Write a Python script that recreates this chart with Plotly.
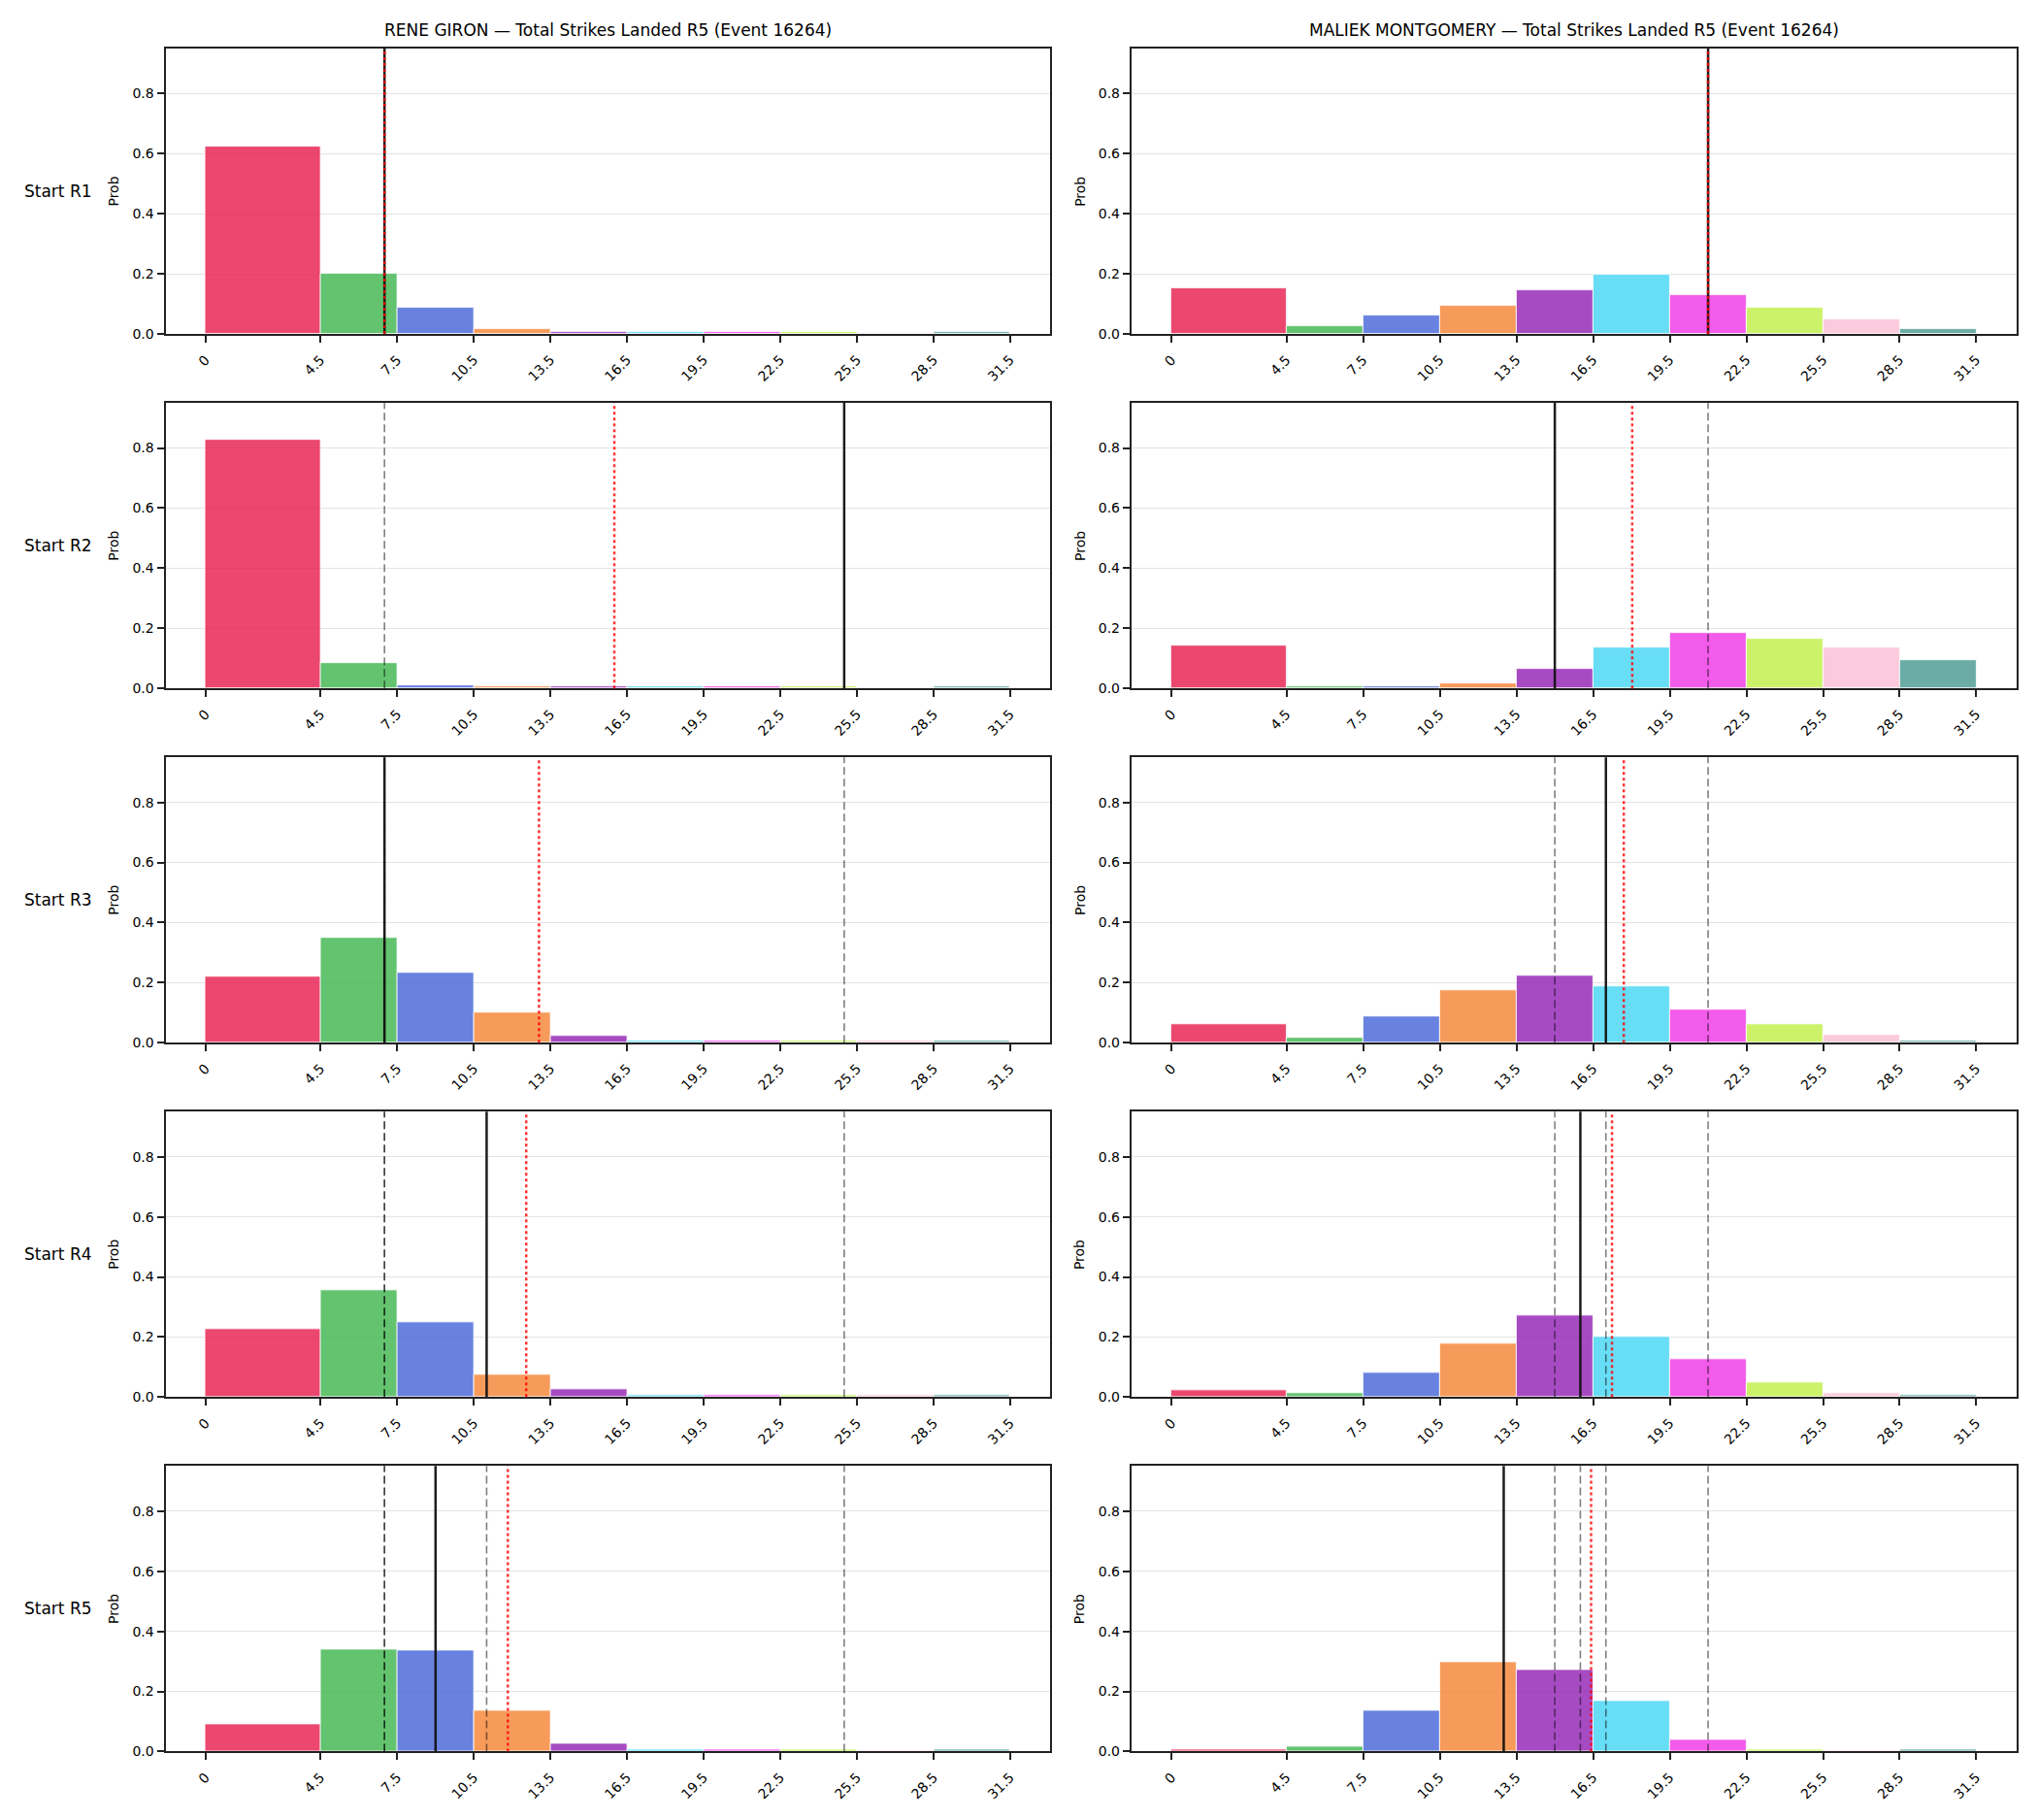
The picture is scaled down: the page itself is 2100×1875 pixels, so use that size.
import plotly.graph_objects as go

# ---------------- data ----------------
bin_edges = [0, 4.5, 7.5, 10.5, 13.5, 16.5, 19.5, 22.5, 25.5, 28.5, 31.5]
tick_labels = ["0", "4.5", "7.5", "10.5", "13.5", "16.5", "19.5", "22.5", "25.5", "28.5", "31.5"]
row_labels = ["Start R1", "Start R2", "Start R3", "Start R4", "Start R5"]
fighters = ["RENE GIRON", "MALIEK MONTGOMERY"]
title_suffix = " — Total Strikes Landed R5 (Event 16264)"

giron_probs = [
    [0.625, 0.201, 0.087, 0.015, 0.007, 0.007, 0.007, 0.006, 0.005, 0.007],
    [0.827, 0.083, 0.010, 0.006, 0.007, 0.006, 0.006, 0.006, 0.005, 0.007],
    [0.221, 0.350, 0.233, 0.100, 0.022, 0.007, 0.007, 0.007, 0.006, 0.007],
    [0.227, 0.357, 0.249, 0.075, 0.025, 0.007, 0.007, 0.007, 0.006, 0.007],
    [0.090, 0.340, 0.336, 0.137, 0.025, 0.006, 0.007, 0.007, 0.005, 0.006],
]
montgomery_probs = [
    [0.152, 0.026, 0.062, 0.094, 0.145, 0.198, 0.130, 0.086, 0.048, 0.018],
    [0.142, 0.006, 0.006, 0.018, 0.064, 0.135, 0.184, 0.164, 0.135, 0.093],
    [0.062, 0.018, 0.088, 0.174, 0.224, 0.187, 0.109, 0.061, 0.026, 0.007],
    [0.023, 0.013, 0.081, 0.179, 0.272, 0.200, 0.126, 0.049, 0.013, 0.007],
    [0.007, 0.018, 0.137, 0.298, 0.272, 0.167, 0.038, 0.006, 0.005, 0.006],
]
# solid black marker per start round, red dotted marker per start round
giron_current = [7, 25, 7, 11, 9]
giron_mean = [7.0, 16.0, 13.05, 12.55, 11.83]
montgomery_current = [21, 15, 17, 16, 13]
montgomery_mean = [21.0, 18.03, 17.7, 17.24, 16.42]

# ---------------- styles ----------------
bin_colors = ["#e6194b", "#3cb44b", "#4363d8", "#f58231", "#911eb4",
              "#42d4f4", "#f032e6", "#bfef45", "#fabed4", "#469990"]


def rgba(hex_color, a):
    h = hex_color.lstrip("#")
    return "rgba(%d,%d,%d,%.2f)" % (int(h[0:2], 16), int(h[2:4], 16), int(h[4:6], 16), a)


W, H = 2100, 1875
col_x = [(170.5, 1082.4), (1165.8, 2077.9)]
YCORR = 1.0 / 0.9955
row_top0, row_pitch, row_h = 50.0, 365.0, 294.0
FONT = "DejaVu Sans"

centers = [(bin_edges[i] + bin_edges[i + 1]) / 2 for i in range(len(bin_edges) - 1)]
widths = [bin_edges[i + 1] - bin_edges[i] for i in range(len(bin_edges) - 1)]
fill = [rgba(c, 0.8) for c in bin_colors]

fig = go.Figure()
layout = dict(
    width=W, height=H,
    margin=dict(l=0, r=0, t=0, b=0),
    paper_bgcolor="white", plot_bgcolor="white",
    showlegend=False, bargap=0,
    font=dict(family=FONT, color="black", size=14),
)
shapes = []
annotations = []

probs_all = [giron_probs, montgomery_probs]
current_all = [giron_current, montgomery_current]
mean_all = [giron_mean, montgomery_mean]

for r in range(5):
    top = (row_top0 + r * row_pitch) * YCORR
    bot = (row_top0 + r * row_pitch + row_h) * YCORR
    ydom = [max(0.0, 1 - bot / H), 1 - top / H]
    for c in range(2):
        k = r * 2 + c + 1
        xa = "x" if k == 1 else "x%d" % k
        ya = "y" if k == 1 else "y%d" % k
        xkey = "xaxis" if k == 1 else "xaxis%d" % k
        ykey = "yaxis" if k == 1 else "yaxis%d" % k
        x0, x1 = col_x[c]
        fig.add_trace(go.Bar(
            x=centers, y=probs_all[c][r], width=widths,
            marker=dict(color=fill, line=dict(color="white", width=0.8)),
            xaxis=xa, yaxis=ya, hoverinfo="x+y",
        ))
        layout[xkey] = dict(
            domain=[x0 / W, x1 / W], anchor=ya, range=[-1.575, 33.075],
            tickmode="array", tickvals=bin_edges, ticktext=tick_labels,
            tickangle=-45, ticks="outside", ticklen=7, tickwidth=1.5, tickcolor="#222",
            ticklabelstandoff=4,
            showline=True, linecolor="#222", linewidth=2, mirror=True,
            showgrid=False, zeroline=False, tickfont=dict(size=14, family=FONT, color="black"),
        )
        layout[ykey] = dict(
            domain=ydom, anchor=xa, range=[0, 0.95],
            tickmode="array", tickvals=[0, 0.2, 0.4, 0.6, 0.8],
            ticktext=["0.0", "0.2", "0.4", "0.6", "0.8"],
            ticks="outside", ticklen=7, tickwidth=1.5, tickcolor="#222",
            showline=True, linecolor="#222", linewidth=2, mirror=True,
            showgrid=True, gridcolor="#e3e3e3", gridwidth=1, zeroline=False,
            tickfont=dict(size=14, family=FONT, color="black"),
        )
        # previous-round markers (dashed)
        for v in current_all[c][:r]:
            shapes.append(dict(type="line", xref=xa, yref=ya + " domain", x0=v, x1=v, y0=0, y1=1,
                               line=dict(color="rgba(0,0,0,0.5)", width=1.6, dash="8px,4px"),
                               layer="above"))
        v = current_all[c][r]
        shapes.append(dict(type="line", xref=xa, yref=ya + " domain", x0=v, x1=v, y0=0, y1=1,
                           line=dict(color="rgba(17,17,17,0.95)", width=2.5), layer="above"))
        v = mean_all[c][r]
        shapes.append(dict(type="line", xref=xa, yref=ya + " domain", x0=v, x1=v, y0=0, y1=1,
                           line=dict(color="rgba(255,0,0,0.8)", width=2.5, dash="dot"), layer="above"))
        # y label
        annotations.append(dict(text="Prob", xref="paper", yref="paper",
                                x=(x0 - 53) / W, y=(ydom[0] + ydom[1]) / 2,
                                xanchor="center", yanchor="middle", textangle=-90,
                                showarrow=False, font=dict(size=14, family=FONT, color="black")))
        if r == 0:
            annotations.append(dict(text=fighters[c] + title_suffix, xref="paper", yref="paper",
                                    x=(x0 + x1) / 2 / W, y=1 - 31.5 / H,
                                    xanchor="center", yanchor="middle", showarrow=False,
                                    font=dict(size=17, family=FONT, color="black")))
    annotations.append(dict(text=row_labels[r], xref="paper", yref="paper",
                            x=23 / W, y=(ydom[0] + ydom[1]) / 2,
                            xanchor="left", yanchor="middle", showarrow=False,
                            font=dict(size=17, family=FONT, color="black")))

layout["shapes"] = shapes
layout["annotations"] = annotations
fig.update_layout(**layout)
fig.write_html("out.html")
